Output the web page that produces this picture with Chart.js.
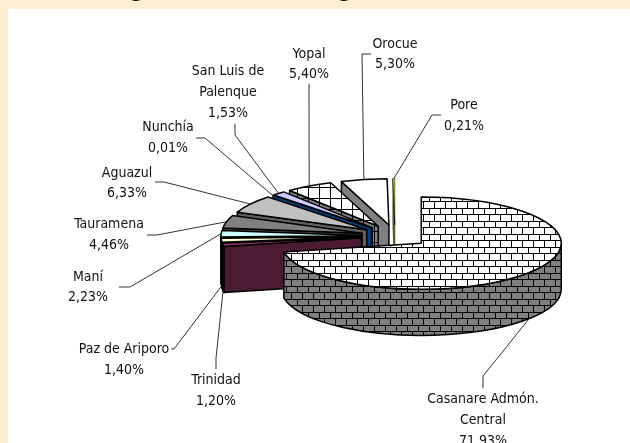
<!DOCTYPE html>
<html>
<head>
<meta charset="utf-8">
<style>
  html, body { margin: 0; padding: 0; background: #fff; overflow: hidden; }
  canvas { display: block; }
</style>
<script src="https://cdn.jsdelivr.net/npm/chart.js@4"></script>
</head>
<body>
<canvas id="regaliasChart" width="630" height="443"></canvas>
<script>
const municipios = [
  "Casanare Admón.|Central", "Trinidad", "Paz de Ariporo", "Maní", "Tauramena", "Aguazul",
  "Nunchía", "San Luis de|Palenque", "Yopal", "Orocue", "Pore",
];
const shares = [71.93, 1.2, 1.4, 2.23, 4.46, 6.33, 0.01, 1.53, 5.4, 5.3, 0.21];

// Label placement: text centre, first line y, line height, then the elbow of the leader
const labelLayout = [
  { x: 483, y: 399, lh: 21, start: [483, 388], elbow: [483, 376] },
  { x: 216, y: 380, lh: 21, start: [216, 369], elbow: [216, 358] },
  { x: 124, y: 349, lh: 21, start: [171, 349], elbow: [174, 349] },
  { x: 88, y: 277, lh: 20, start: [119, 287], elbow: [130, 287] },
  { x: 109, y: 224, lh: 21, start: [147, 235], elbow: [157, 235] },
  { x: 127, y: 173, lh: 20, start: [155, 182], elbow: [164, 182] },
  { x: 168, y: 127, lh: 21, start: [196, 138], elbow: [205, 138] },
  { x: 228, y: 71, lh: 21, start: [235, 124], elbow: [235, 135] },
  { x: 309, y: 54, lh: 20, start: [309, 84], elbow: [309, 95] },
  { x: 395, y: 44, lh: 20, start: [371, 54], elbow: [362, 54] },
  { x: 464, y: 105, lh: 21, start: [441, 115], elbow: [432, 115] },
];

const SQUASH = 0.33;
const DEPTH = 46;

function brickTile(fill) {
  const tile = document.createElement("canvas");
  tile.width = 11;
  tile.height = 13;
  const c = tile.getContext("2d");
  c.fillStyle = fill;
  c.fillRect(0, 0, 11, 13);
  c.fillStyle = "#000";
  c.fillRect(0, 0, 11, 1);
  c.fillRect(0, 6, 11, 1);
  c.fillRect(0, 0, 1, 6);
  c.fillRect(5, 6, 1, 7);
  return c.createPattern(tile, "repeat");
}

function gridTile(fill) {
  const tile = document.createElement("canvas");
  tile.width = 11;
  tile.height = 11;
  const c = tile.getContext("2d");
  c.fillStyle = fill;
  c.fillRect(0, 0, 11, 11);
  c.fillStyle = "#000";
  c.fillRect(0, 0, 11, 1);
  c.fillRect(0, 0, 1, 11);
  return c.createPattern(tile, "repeat");
}

const ctx = document.getElementById("regaliasChart").getContext("2d");

const topColors = [
  brickTile("#ffffff"), "#993366", "#ffffcc", "#ccffff", "#808080", "#c0c0c0",
  "#004080", "#ccccff", gridTile("#ffffff"), "#ffffff", "#ffff00",
];
const wallColors = [
  brickTile("#808080"), "#4d1a33", "#1a1a1a", "#000000", "#404040", "#606060",
  "#004080", "#004080", gridTile("#808080"), "#808080", "#808000",
];

// Pushes a slice's centre out along its middle angle, like the library does for offset
function sliceCentre(arc, offset) {
  const mid = (arc.startAngle + arc.endAngle) / 2;
  return { x: arc.x + Math.cos(mid) * offset, y: arc.y + Math.sin(mid) * offset, mid };
}

function squashed(c, cy, lift, build) {
  c.save();
  c.translate(0, cy + lift);
  c.scale(1, SQUASH);
  c.translate(0, -cy);
  build();
  c.restore();
}

function paint(c, fill, width) {
  c.fillStyle = fill;
  c.fill();
  c.strokeStyle = "#000";
  c.lineWidth = width;
  c.lineJoin = "round";
  c.stroke();
}

function radialWall(c, arc, o, angle, fill, width) {
  const r = arc.outerRadius;
  const ax = o.x;
  const ay = arc.y + (o.y - arc.y) * SQUASH;
  const bx = o.x + Math.cos(angle) * r;
  const by = ay + Math.sin(angle) * r * SQUASH;
  c.beginPath();
  c.moveTo(ax, ay);
  c.lineTo(bx, by);
  c.lineTo(bx, by + DEPTH);
  c.lineTo(ax, ay + DEPTH);
  c.closePath();
  paint(c, fill, width);
}

function drawSlice(c, arc, i, offset) {
  const o = sliceCentre(arc, offset);
  const r = arc.outerRadius;
  const s = arc.startAngle;
  const e = arc.endAngle;
  // very thin slices would vanish under a full outline
  const width = e - s < 0.03 ? 0.6 : 1.5;

  // angles are measured from 3 o'clock here, so sin > 0 means the lower half
  if (Math.cos(s) < 0) radialWall(c, arc, o, s, wallColors[i], width);
  if (Math.cos(e) > 0) radialWall(c, arc, o, e, wallColors[i], width);

  const a0 = Math.max(s, 0);
  const a1 = Math.min(e, Math.PI);
  if (a1 > a0) {
    c.beginPath();
    squashed(c, arc.y, 0, () => c.arc(o.x, o.y, r, a0, a1));
    squashed(c, arc.y, DEPTH, () => c.arc(o.x, o.y, r, a1, a0, true));
    c.closePath();
    paint(c, wallColors[i], width);
  }

  c.beginPath();
  squashed(c, arc.y, 0, () => {
    c.moveTo(o.x, o.y);
    c.arc(o.x, o.y, r, s, e);
    c.closePath();
  });
  paint(c, topColors[i], width);
}

const pie3d = {
  id: "pie3d",
  beforeDraw(chart) {
    const c = chart.ctx;
    c.save();
    c.fillStyle = "#ffeecf";
    c.fillRect(0, 0, chart.width, chart.height);
    c.fillStyle = "#ffffff";
    c.fillRect(8, 9, chart.width - 8, chart.height - 9);
    c.fillStyle = "#000";
    c.font = "bold 22px 'DejaVu Sans'";
    c.textAlign = "center";
    c.textBaseline = "alphabetic";
    // only the tails of the cropped title show at the very top
    c.fillText("g", 137, -3);
    c.fillText("g", 345, -3);
    c.restore();
  },
  beforeDatasetsDraw(chart) {
    const c = chart.ctx;
    const arcs = chart.getDatasetMeta(0).data;
    const offset = chart.data.datasets[0].offset;
    c.save();
    for (let i = arcs.length - 1; i >= 0; i--) {
      drawSlice(c, arcs[i], i, offset);
    }
    c.restore();
    return false;
  },
  afterDraw(chart) {
    const c = chart.ctx;
    const arcs = chart.getDatasetMeta(0).data;
    const offset = chart.data.datasets[0].offset;
    c.save();
    arcs.forEach((arc, i) => {
      const o = sliceCentre(arc, offset);
      const place = labelLayout[i];
      const tipX = o.x + Math.cos(o.mid) * arc.outerRadius;
      let tipY = arc.y + (o.y - arc.y) * SQUASH + Math.sin(o.mid) * arc.outerRadius * SQUASH;
      if (Math.sin(o.mid) > 0) tipY += DEPTH;

      c.beginPath();
      c.moveTo(place.start[0], place.start[1]);
      c.lineTo(place.elbow[0], place.elbow[1]);
      c.lineTo(tipX, tipY);
      c.strokeStyle = "#333";
      c.lineWidth = 1;
      c.stroke();

      const lines = municipios[i].split("|");
      lines.push(shares[i].toFixed(2).replace(".", ",") + "%");
      c.fillStyle = "#111";
      c.font = "14px 'DejaVu Sans Condensed', 'DejaVu Sans'";
      c.textAlign = "center";
      c.textBaseline = "middle";
      lines.forEach((line, n) => c.fillText(line, place.x, place.y + n * place.lh));
    });
    c.restore();
  },
};

new Chart(ctx, {
  type: "pie",
  data: {
    labels: municipios,
    datasets: [
      {
        data: shares,
        backgroundColor: topColors,
        borderColor: "#000",
        borderWidth: 1,
        offset: 34,
      },
    ],
  },
  options: {
    responsive: false,
    animation: false,
    radius: 140,
    layout: { padding: { left: 221, right: 61, top: 62, bottom: 33 } },
    plugins: { legend: { display: false }, tooltip: { enabled: false } },
  },
  plugins: [pie3d],
});
</script>
</body>
</html>
